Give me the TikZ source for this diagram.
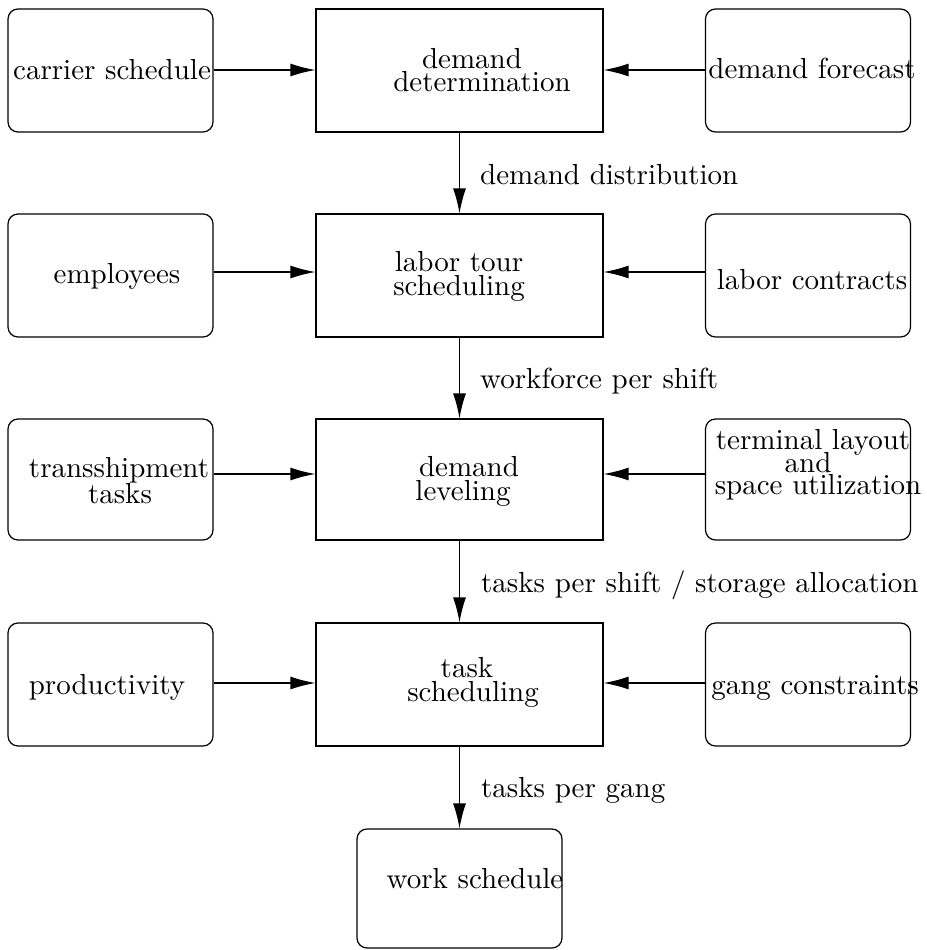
\documentclass[tikz,border=0pt]{standalone}
\usepackage{fontspec}
\setmainfont{lmroman10-regular}[Extension=.otf]
\usetikzlibrary{arrows.meta}
\begin{document}
\begin{tikzpicture}[x=1pt,y=-1pt,
  rbox/.style={draw, rounded corners=10pt, minimum width=205pt, minimum height=123pt, inner sep=0pt, line width=1.2pt},
  cbox/.style={draw, minimum width=287pt, minimum height=123pt, inner sep=0pt, line width=1.2pt},
  arr/.style={-{Latex[length=25pt,width=13pt]}, line width=1.3pt},
  txt/.style={anchor=base, inner sep=0pt, font=\fontsize{29}{26}\selectfont},
  lbl/.style={anchor=base west, inner sep=0pt, font=\fontsize{29}{26}\selectfont}]
\useasboundingbox (0,0) rectangle (926,950);
% boxes
\node[rbox] (L1) at (110.5,70.5) {};
\node[cbox] (C1) at (459.5,70.5) {};
\node[rbox] (R1) at (808,70.5) {};
\node[rbox] (L2) at (110.5,275.5) {};
\node[cbox] (C2) at (459.5,275.5) {};
\node[rbox] (R2) at (808,275.5) {};
\node[rbox, minimum height=121pt] (L3) at (110.5,479.5) {};
\node[cbox, minimum height=121pt] (C3) at (459.5,479.5) {};
\node[rbox, minimum height=121pt] (R3) at (808,479.5) {};
\node[rbox] (L4) at (110.5,684.5) {};
\node[cbox] (C4) at (459.5,684.5) {};
\node[rbox] (R4) at (808,684.5) {};
\node[rbox, minimum height=119pt] (B) at (459.5,888.5) {};
% texts
\node[txt] (tL1) at (112,79) {carrier schedule};
\node[txt] (tR1) at (812,78) {demand forecast};
\node[txt] (tC1a) at (472,68) {demand};
\node[txt] (tC1b) at (482,92) {determination};
\node[txt] (tL2) at (117,283) {employees};
\node[txt] (tC2a) at (459,271) {labor tour};
\node[txt] (tC2b) at (459,295) {scheduling};
\node[txt] (tR2) at (812,289) {labor contracts};
\node[txt] (tL3a) at (119,477) {transshipment};
\node[txt] (tL3b) at (120,503) {tasks};
\node[txt] (tC3a) at (469,476) {demand};
\node[txt] (tC3b) at (463,500) {leveling};
\node[txt] (tR3a) at (813,449) {terminal layout};
\node[txt] (tR3b) at (808,472) {and};
\node[txt] (tR3c) at (818,494) {space utilization};
\node[txt] (tL4) at (107,694) {productivity};
\node[txt] (tC4a) at (467,677) {task};
\node[txt] (tC4b) at (473,701) {scheduling};
\node[txt] (tR4) at (815,694) {gang constraints};
\node[txt] (tB) at (475,888) {work schedule};
% arrow labels
\node[lbl] (a1) at (480,184) {demand distribution};
\node[lbl] (a2) at (480,388) {workforce per shift};
\node[lbl] (a3) at (481,592) {tasks per shift / storage allocation};
\node[lbl] (a4) at (481,797) {tasks per gang};
% horizontal arrows
\draw[arr] ([yshift=0.5pt]L1.east) -- ([yshift=0.5pt]C1.west);
\draw[arr] ([yshift=0.5pt]R1.west) -- ([yshift=0.5pt]C1.east);
\draw[arr] ([yshift=3.5pt]L2.east) -- ([yshift=3.5pt]C2.west);
\draw[arr] ([yshift=3.5pt]R2.west) -- ([yshift=3.5pt]C2.east);
\draw[arr] ([yshift=5.5pt]L3.east) -- ([yshift=5.5pt]C3.west);
\draw[arr] ([yshift=5.5pt]R3.west) -- ([yshift=5.5pt]C3.east);
\draw[arr] ([yshift=1.5pt]L4.east) -- ([yshift=1.5pt]C4.west);
\draw[arr] ([yshift=1.5pt]R4.west) -- ([yshift=1.5pt]C4.east);
% vertical arrows
\draw[arr] (C1.south) -- (C2.north);
\draw[arr] (C2.south) -- (C3.north);
\draw[arr] (C3.south) -- (C4.north);
\draw[arr] (C4.south) -- (B.north);
\end{tikzpicture}
\end{document}
